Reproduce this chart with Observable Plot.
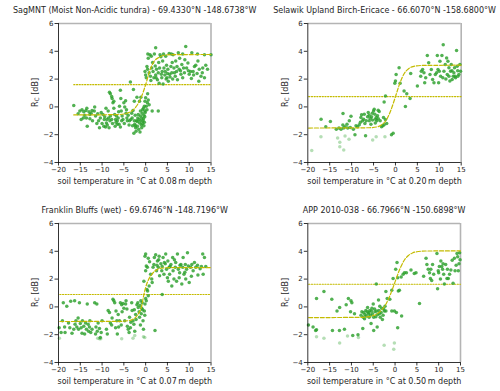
<!DOCTYPE html>
<html>
<head>
<meta charset="utf-8">
<script src="https://cdn.jsdelivr.net/npm/d3@7"></script>
<script src="https://cdn.jsdelivr.net/npm/@observablehq/plot@0.6"></script>
<style>
  html, body { margin:0; padding:0; background:#fff; }
  #wrap { position:relative; width:500px; height:391px; overflow:hidden; font-family:"DejaVu Sans", sans-serif; }
  #wrap svg { position:absolute; overflow:visible; }
</style>
</head>
<body>
<div id="wrap"></div>
<script>
// ---------- tick labels ----------
const xTicks = [-20, -15, -10, -5, 0, 5, 10, 15];
const yTicks = [-4, -2, 0, 2, 4, 6];

// ---------- titles ----------
const titles = [
  "SagMNT (Moist Non-Acidic tundra) - 69.4330°N -148.6738°W",
  "Selawik Upland Birch-Ericace - 66.6070°N -158.6800°W",
  "Franklin Bluffs (wet) - 69.6746°N -148.7196°W",
  "APP 2010-038 - 66.7966°N -150.6898°W"
];
const depths = ["0.08", "0.20", "0.07", "0.50"];

// ---------- panel 1 : SagMNT ----------
const p1Points = [
  [-16.5,0.1],[-15.1,-0.3],[-14.6,-0.2],[-14.2,-0.35],[-13.7,-0.25],[-13.5,-0.1],[-14.0,-0.6],[-13.6,-0.8],[-14.3,-0.8],[-13.4,-1.4],
  [-12.8,-0.55],[-12.5,-0.45],[-12.3,-0.25],[-12.8,-0.85],[-12.2,-1.0],[-11.7,0.0],[-11.8,-0.3],[-11.5,-0.65],[-11.2,-1.2],[-11.0,-0.5],
  [-10.6,-1.5],[-10.4,-0.8],[-10.2,-0.4],[-9.8,-0.55],[-9.5,-0.9],[-9.4,-0.7],[-9.2,-1.45],[-9.0,-1.15],[-8.8,-1.3],[-9.1,-0.1],
  [-8.6,-0.3],[-8.5,-0.8],[-8.2,-1.0],[-8.1,-0.65],[-7.8,-0.9],[-8.3,1.05],[-8.1,0.95],[-7.8,0.75],[-7.7,0.6],[-7.5,0.3],
  [-7.3,0.4],[-7.3,-0.1],[-7.1,-0.55],[-6.9,-0.9],[-6.7,-0.65],[-6.5,-1.25],[-6.5,-1.0],[-6.3,-0.8],[-6.2,-0.35],[-6.0,0.05],
  [-5.8,1.2],[-5.7,0.6],[-5.8,-1.45],[-5.5,-1.0],[-5.4,-0.65],[-5.2,-0.9],[-5.0,0.3],[-4.8,0.0],[-4.6,0.45],[-4.5,-0.45],
  [-4.3,-0.8],[-4.2,-1.0],[-4.0,-0.6],[-3.8,-1.3],[-3.7,-1.0],[-3.5,1.8],[-3.2,-0.45],[-3.1,-0.8],[-2.9,-0.25],[-2.8,1.25],
  [-2.6,0.4],[-2.6,-1.0],[-2.5,-1.25],[-2.3,-1.5],[-2.2,-1.75],[-2.1,-1.0],[-1.9,-1.4],[-2.7,-1.9],[-1.8,-0.8],[-1.7,-0.55],
  [-1.5,-0.9],[-1.4,-1.15],[-1.2,-0.65],[-1.2,-0.3],[-0.9,-0.8],[-0.8,-0.45],[-0.6,-1.0],[-0.5,-0.1],[-0.4,-0.6],[-0.3,0.05],
  [-0.15,0.4],[-0.15,-0.3],[0,0.65],[0.15,0.05],[0.3,-0.2],[0.4,0.3],[0.45,0.95],[0.6,0.5],[0.8,0.15],[-1.1,0.7],
  [-1.4,0.4],[-2.0,0.7],[1.5,-0.3],[2.9,-0.3],
  [-15.5,-0.5],[-14.8,-0.9],[-13.0,-0.35],[-10.8,-1.0],[-10.0,-1.2],[-9.6,-1.4],[-8.9,-0.9],[-8.4,-1.5],[-7.6,-1.2],[-7.0,-1.4],
  [-6.8,-1.1],[-6.1,-1.25],[-5.6,-0.3],[-4.9,-1.2],[-4.4,-0.2],[-3.4,-0.9],[-3.0,-1.35],[-2.4,-0.6],[-1.6,-1.6],[-1.3,-1.8],
  [-1.0,-1.3],[-0.9,-1.5],[-0.7,-1.2],[-0.5,-0.85],[-0.3,-1.1],[-0.2,-0.7],[-0.1,-0.4],[-1.1,-1.0],[-1.9,-1.05],[-2.35,-1.35],
  [-0.7,-0.2],[-0.4,-1.35],
  [-0.15,2.55],[0,2.3],[0.15,2.1],[0.3,2.9],[0.45,2.7],[0.6,3.5],[1.0,3.75],[1.3,3.65],[2.3,4.25],[0.8,2.45],
  [1.1,2.2],[1.4,2.8],[1.7,2.55],[1.9,2.1],[2.2,2.95],[2.3,2.3],[2.5,2.7],[2.7,1.95],[2.9,2.45],[3.1,1.7],
  [3.2,2.8],[3.5,3.6],[3.7,2.1],[3.8,2.55],[4.0,1.65],[4.2,2.8],[4.4,2.3],[4.6,3.65],[4.8,3.0],[4.9,2.1],
  [5.1,2.7],[5.2,1.85],[5.4,3.85],[5.5,2.35],[5.8,2.9],[6.0,2.45],[6.2,2.0],[6.3,3.75],[6.5,2.8],[6.8,2.2],
  [6.9,3.3],[7.1,2.55],[7.3,1.95],[7.5,3.9],[7.7,2.7],[7.8,3.5],[8.1,2.35],[8.3,3.05],[8.5,2.1],[8.7,2.8],
  [9.2,4.35],[8.9,2.45],[9.4,2.8],[9.7,3.15],[10.0,2.35],[10.3,2.55],[10.6,3.9],[10.9,2.55],[11.2,2.9],[11.5,3.0],
  [11.8,2.4],[12.2,1.85],[12.3,2.7],[12.7,2.2],[13.1,2.8],[13.5,2.1],[13.8,3.0],[14.2,2.7],[15.0,3.75],[13.5,3.75],
  [11.9,3.8],
  [3.0,3.2],[3.9,3.3],[4.5,2.55],[5.0,2.4],[5.6,2.15],[6.1,3.2],[6.6,2.45],[7.2,2.9],[8.0,2.6],[9.0,3.4],
  [9.8,2.6],[10.5,2.05],[11.0,2.3],[12.0,3.3],[13.0,2.45],[2.0,3.8],[3.3,3.75],[4.1,3.8],[5.9,3.8],[8.5,3.8],
  [0.5,3.8],[1.2,1.9],[1.6,3.2],[2.4,2.1],[3.6,2.35],[4.7,2.0]
];
const p1Light = [];
const p1CurveX = [-16.5, -6, -4, -3, -2, -1, 0, 1, 2, 3, 4, 6, 15];
const p1CurveY = [-0.58, -0.55, -0.42, -0.25, 0.1, 0.7, 1.6, 2.65, 3.3, 3.55, 3.7, 3.76, 3.77];
const p1Mid = 1.6;
const p1MidX = [-16.5, 15];

// ---------- panel 2 : Selawik ----------
const p2Points = [
  [-16.97,-0.88],[-14.85,-1.05],[-15.9,-1.43],[-11.97,-0.48],[-12.88,-1.52],[-12.42,-1.6],[-11.82,-1.52],[-11.5,-1.43],[-10.9,-1.52],[-11.06,-1.24],
  [-10.53,-1.0],[-10.15,-0.67],[-10.3,-1.48],[-9.24,-2.0],[-9.0,-1.36],[-8.64,-1.43],[-8.26,-1.29],[-7.88,-0.76],[-7.73,-0.57],[-7.5,-1.0],
  [-7.27,-0.88],[-7.12,-0.52],[-6.97,-1.19],[-6.82,-2.07],[-6.67,-1.0],[-6.36,-0.71],[-6.21,-0.4],[-5.98,-1.0],[-5.76,-0.81],[-5.6,-1.24],
  [-5.45,-0.71],[-5.23,-0.95],[-5.0,-0.29],[-4.85,-0.17],[-4.7,-0.52],[-4.55,-0.88],[-4.39,-0.76],[-4.24,-1.0],[-4.09,-0.64],[-3.94,-0.24],
  [-3.71,-0.33],[-3.48,-1.0],[-3.18,-1.43],[-2.88,-1.36],[-2.58,-1.29],[-2.73,-0.76],[-2.27,0.79],[-2.58,0.36],[-0.91,-2.0],[-0.53,-1.9],
  [0,1.86],[0.15,2.33],[-0.15,1.71],[0.83,2.81],[1.06,1.71],[1.97,1.14],[2.27,0.02],[2.58,0.95],[3.33,0.6],[3.48,2.4],
  [5.0,1.5],[5.76,2.21],[5.9,2.57],[6.2,2.69],[6.5,2.45],[6.67,1.74],[6.9,2.1],[7.27,3.69],[7.58,3.17],[7.88,2.33],
  [8.18,2.69],[8.48,1.98],[8.79,1.74],[9.09,2.33],[9.39,2.45],[9.55,3.69],[9.7,2.69],[9.85,1.74],[10.0,2.57],[10.15,3.29],
  [10.3,2.21],[10.6,3.69],[10.9,4.48],[11.06,2.57],[11.36,3.05],[11.67,3.52],[11.82,2.33],[11.97,3.29],[12.2,2.81],[12.42,1.86],
  [12.58,2.57],[12.73,3.05],[12.95,1.98],[13.18,2.21],[13.33,2.45],[13.48,2.81],[13.71,2.1],[13.94,4.05],[14.09,2.93],[14.24,2.21],
  [14.47,2.33],[14.7,3.05],[14.85,2.57],
  [-13.5,-1.6],[-12.0,-1.3],[-9.6,-1.6],[-8.0,-1.1],[-6.0,-0.6],[-5.3,-0.45],[-4.6,-1.15],[-3.9,-0.85],[-2.3,-0.9],[-2.0,-1.2],
  [11.5,2.0],[12.9,2.6],[14.2,2.6],[13.6,2.2],[10.8,2.1],[12.2,2.2]
];
const p2Light = [
  [-19.1,-3.14],[-17.0,-2.14],[-13.2,-2.24],[-12.7,-2.55],[-12.7,-2.86],[-11.8,-3.1],[-11.5,-2.1],[-10.6,-2.33],[-5.2,-2.38],[-4.4,-2.14],
  [-2.4,-2.14]
];
const p2CurveX = [-19.8, -6, -4, -3, -2, -1, 0, 1, 2, 3, 4, 6, 15];
const p2CurveY = [-1.52, -1.5, -1.42, -1.25, -0.9, -0.2, 0.74, 1.7, 2.4, 2.75, 2.9, 2.98, 3.0];
const p2Mid = 0.74;
const p2MidX = [-19.8, 15];

// ---------- panel 3 : Franklin Bluffs ----------
const p3Points = [
  [-19.85,-1.5],[-19.4,-1.85],[-19.1,-1.0],[-18.9,0.3],[-18.6,-1.45],[-18.5,-1.85],[-18.1,0.05],[-17.7,-1.15],[-17.4,-1.5],[-17.2,0.4],
  [-16.9,-1.9],[-16.5,-1.6],[-16.3,0.45],[-16.2,-1.25],[-16.0,-1.0],[-15.8,-1.45],[-15.5,-0.8],[-15.4,-1.6],[-15.2,0.3],[-15.0,-1.2],
  [-14.8,-1.5],[-14.6,-1.9],[-14.5,-1.0],[-14.2,-1.4],[-14.0,-1.95],[-13.8,-1.15],[-13.6,-1.6],[-13.4,0.2],[-13.2,-1.25],[-13.1,-1.75],
  [-12.9,-1.45],[-12.8,-1.0],[-12.6,-1.85],[-12.3,-1.6],[-11.7,0.3],[-11.5,-1.95],[-11.4,-1.45],[-11.2,0.2],[-11.1,-1.75],[-10.9,-1.15],
  [-10.6,-1.55],[-10.4,-2.2],[-10.2,-1.85],[-10.0,-1.0],[-8.8,-1.95],[-8.6,-0.25],[-8.3,-0.4],[-8.1,-1.15],[-7.8,-1.3],[-7.7,-0.8],
  [-7.5,0.55],[-7.3,0.45],[-7.1,0.3],[-6.9,-1.5],[-6.8,-0.3],[-6.6,-1.0],[-6.5,-1.95],[-6.3,-0.55],[-6.2,-1.45],[-6.0,-1.0],
  [-5.8,0.3],[-5.5,0.15],[-5.4,-0.35],[-5.2,0.25],[-5.0,-0.1],[-4.8,-1.0],[-4.6,0.2],[-4.5,0.45],[-4.3,-0.15],[-4.2,-1.4],
  [-4.0,-1.6],[-3.8,-1.85],[-3.7,-0.75],[-3.5,-1.5],[-3.2,0.3],[-3.1,-0.25],[-2.9,-1.0],[-2.7,-1.25],[-2.5,-1.75],[-2.3,-0.55],
  [-2.2,-0.9],[-2.0,0.15],[-1.8,0.3],[-1.7,-0.05],[-1.5,-0.35],[-1.4,-0.75],[-1.2,-1.3],[-1.1,0.45],[-0.9,-0.1],[-0.8,0.3],
  [-0.6,-1.0],[-0.5,-1.6],[-0.3,-0.3],[-0.15,0.2],[0,0.6],[0.15,0.45],[0.3,1.25],[0.45,1.15],[0.6,0.8],[0.8,1.5],
  [-0.4,1.85],[0,2.6],[-0.15,3.65],[0,3.8],[0.15,2.95],[0.4,2.85],[0.6,3.5],[0.9,3.25],[1.15,2.35],[1.4,2.0],
  [1.5,1.75],[1.7,2.85],[1.9,3.05],[2.0,3.55],[2.15,-1.7],[2.3,3.75],[2.5,2.6],[2.7,3.3],[2.9,2.85],[3.1,3.65],
  [3.2,2.25],[3.5,3.1],[3.7,2.6],[3.8,0.9],[4.0,3.55],[4.2,2.35],[4.5,3.1],[4.6,3.8],[4.8,2.7],[5.0,2.1],
  [5.1,3.3],[5.2,1.85],[5.4,2.85],[5.5,2.35],[5.8,3.05],[6.0,1.5],[6.2,3.55],[6.3,2.6],[6.5,2.0],[6.8,2.85],
  [6.9,3.2],[7.1,1.85],[7.3,3.8],[7.5,2.7],[7.7,2.1],[7.8,2.45],[8.1,3.05],[8.3,1.65],[8.5,2.85],[8.6,3.55],
  [8.8,2.35],[9.1,3.05],[9.2,2.0],[9.4,2.7],[9.6,3.9],[9.8,2.95],[10.0,1.75],[10.3,2.85],[10.6,3.05],[10.9,2.6],
  [11.5,2.85],[11.9,3.0],[12.5,2.75],[13.1,3.8],[13.2,2.35],[13.5,3.55],[13.8,2.9],
  [3.0,3.4],[4.3,3.2],[5.6,2.9],[6.6,3.4],[7.9,3.0],[9.0,2.5],[10.5,2.2],[12.0,2.3],[12.8,2.9],[11.2,3.2],
  [2.6,3.0],[3.8,2.9],[-1.0,-0.5],[-0.7,-0.2],[-0.2,-0.6],[-1.3,0.1],[-2.6,-0.2],[-3.4,-1.1],[-5.6,-1.3],[-9.0,-1.6]
];
const p3Light = [
  [-19.8,-2.25],[-11.0,-2.25],[-10.6,-2.3],[-10.3,-2.3],[-5.5,-2.3],[-2.9,-2.25],[-2.5,-2.05],[-0.5,-2.15],[-0.2,-2.2]
];
const p3CurveX = [-19.7, -6, -4, -3, -2.3, -1.5, -1, -0.4, 0, 0.5, 1, 1.5, 2.3, 3, 4, 6, 15];
const p3CurveY = [-1.05, -1.04, -0.99, -0.9, -0.75, -0.4, -0.05, 0.89, 1.4, 1.85, 2.15, 2.38, 2.62, 2.74, 2.8, 2.83, 2.83];
const p3Mid = 0.89;
const p3MidX = [-19.7, 15];

// ---------- panel 4 : APP 2010-038 ----------
const p4Points = [
  [-19.85,-1.3],[-18.8,-1.45],[-18.2,-1.7],[-18.0,-1.65],[-18.0,0.6],[-16.3,1.1],[-14.5,0.55],[-14.35,-1.7],[-13.3,-0.3],[-12.75,-1.7],
  [-12.7,-0.05],[-11.6,-1.6],[-11.2,0.15],[-10.7,0.6],[-10.2,-0.35],[-10.1,0.45],[-9.9,0.3],[-9.7,-2.05],[-9.3,-0.5],[-8.5,-2.0],
  [-7.8,-0.6],[-7.4,-1.55],[-7.6,-0.35],[-7.3,-0.75],[-7.2,-0.4],[-7.0,-0.85],[-6.9,-0.55],[-6.7,-0.25],[-6.6,-0.65],[-6.4,-0.35],
  [-6.3,-0.05],[-6.1,-0.5],[-5.95,-0.75],[-5.8,-0.25],[-5.65,-0.6],[-5.5,-1.2],[-5.3,-0.1],[-5.2,-0.5],[-5.0,0.2],[-4.9,-0.75],
  [-4.9,-1.7],[-4.7,-0.15],[-4.6,-0.35],[-4.4,-0.7],[-4.3,1.65],[-4.1,-1.45],[-4.0,-0.55],[-3.8,0.5],[-3.7,-0.25],[-3.5,0.05],
  [-3.4,-0.75],[-3.2,-0.4],[-3.05,-0.1],[-2.9,-0.9],[-2.75,-0.6],[-2.6,-0.15],[-2.45,-0.3],[-2.3,0.05],[-2.1,1.1],[-2.1,-0.3],
  [-1.8,0.6],[-1.2,0.55],[-0.75,-0.3],[-0.75,1.2],[-0.45,2.05],[-0.15,-0.3],[0.15,2.7],[0.3,-0.4],[0.45,3.2],[0.6,-1.5],
  [0.75,1.15],[1.0,1.2],[0.6,2.1],[1.5,-0.65],[1.4,2.15],[1.85,2.35],[2.15,2.45],[2.6,2.45],[3.65,2.65],[4.4,2.4],
  [4.8,2.45],[5.6,0.25],[6.55,2.2],[7.1,3.5],[7.3,3.05],[7.6,2.7],[7.9,2.45],[8.1,2.05],[8.2,2.7],[8.4,1.9],
  [8.6,3.05],[8.85,2.35],[9.6,3.85],[9.75,1.3],[9.9,2.6],[10.15,2.9],[10.4,2.0],[10.5,3.3],[10.7,2.9],[10.9,2.7],
  [11.15,2.35],[11.3,1.65],[11.6,3.05],[11.9,2.05],[12.2,2.05],[12.5,2.35],[12.8,2.65],[13.1,3.35],[13.3,1.7],[13.6,3.5],
  [13.75,2.6],[14.0,3.0],[14.2,3.85],[14.35,3.6],[14.5,2.6],[14.65,3.1],[14.8,3.9],
  [-6.0,-0.4],[-5.4,-0.3],[-4.2,-0.3],[-3.6,-0.5],[10.0,2.45],[11.0,3.1],[12.0,2.7],[14.9,3.4]
];
const p4Light = [
  [-18.0,-2.15],[-16.3,-2.25],[-12.7,-2.6],[-10.9,-2.1],[-8.4,-2.2],[-2.5,-2.75],[-0.15,-2.6],[-0.3,-3.05]
];
const p4CurveX = [-19.8, -8, -6, -5, -4, -3, -2, -1, 0, 1, 2, 3, 4, 5, 7, 15];
const p4CurveY = [-0.77, -0.75, -0.7, -0.62, -0.48, -0.2, 0.25, 0.95, 1.8, 2.65, 3.3, 3.68, 3.88, 3.97, 4.02, 4.03];
const p4Mid = 1.63;
const p4MidX = [-19.8, 15];

// ---------- build ----------
const toObj = a => a.map(([x, y]) => ({x, y}));
const curveObj = (xs, ys) => xs.map((x, i) => ({x, y: ys[i]}));

const panels = [
  {pts: p1Points, light: p1Light, cx: p1CurveX, cy: p1CurveY, mid: p1Mid, midX: p1MidX, left: 0, top: 0, h: 195, mt: 23, mb: 33, ml: 58, mr: 39.5},
  {pts: p2Points, light: p2Light, cx: p2CurveX, cy: p2CurveY, mid: p2Mid, midX: p2MidX, left: 250, top: 0, h: 195, mt: 23, mb: 33, ml: 57.3, mr: 39.3},
  {pts: p3Points, light: p3Light, cx: p3CurveX, cy: p3CurveY, mid: p3Mid, midX: p3MidX, left: 0, top: 195, h: 196, mt: 28, mb: 29, ml: 58, mr: 39.5},
  {pts: p4Points, light: p4Light, cx: p4CurveX, cy: p4CurveY, mid: p4Mid, midX: p4MidX, left: 250, top: 195, h: 196, mt: 28, mb: 29, ml: 57.3, mr: 40}
];

const wrap = document.getElementById("wrap");
const fitColor = "#c4bb00";
const green = "#2ca02c";
const textColor = "#262626";

panels.forEach((p, i) => {
  const svg = Plot.plot({
    width: 250,
    height: p.h,
    marginTop: p.mt, marginBottom: p.mb, marginLeft: p.ml, marginRight: p.mr,
    style: {fontFamily: "DejaVu Sans", fontSize: "7px", color: textColor, background: "transparent", overflow: "visible"},
    x: {domain: [-20, 15]},
    y: {domain: [-4, 6]},
    marks: [
      Plot.ruleY([6], {stroke: "#b4b4b4", strokeWidth: 1.6}),
      Plot.ruleX([15], {stroke: "#b4b4b4", strokeWidth: 1.6}),
      Plot.line(p.midX.map(x => ({x, y: p.mid})), {x: "x", y: "y", stroke: fitColor, strokeWidth: 1.1, strokeDasharray: "1.2,1.5"}),
      Plot.dot(toObj(p.light), {x: "x", y: "y", r: 1.75, fill: green, fillOpacity: 0.35, stroke: "none"}),
      Plot.dot(toObj(p.pts), {x: "x", y: "y", r: 1.75, fill: green, fillOpacity: 0.82, stroke: "none"}),
      Plot.line(curveObj(p.cx, p.cy), {x: "x", y: "y", stroke: fitColor, strokeWidth: 1.2, strokeDasharray: "4,1.8", curve: "monotone-x"}),
      Plot.ruleX([-20], {stroke: "#000", strokeWidth: 0.8}),
      Plot.ruleY([-4], {stroke: "#000", strokeWidth: 0.8}),
      Plot.axisX({ticks: xTicks, tickSize: 3.5, tickPadding: 1.5, label: null, stroke: "#000", strokeWidth: 0.8, fill: textColor}),
      Plot.axisY({ticks: yTicks, tickSize: 3.5, tickPadding: 1.5, label: null, stroke: "#000", strokeWidth: 0.8, fill: textColor}),
      Plot.text([titles[i]], {frameAnchor: "top", dy: -13.5, lineAnchor: "middle", fontSize: 8, fill: textColor}),
      Plot.text(["soil temperature in °C at " + depths[i] + "\u2009m depth"], {frameAnchor: "bottom", dy: 18.5, lineAnchor: "middle", fontSize: 8, fill: textColor})
    ]
  });
  svg.style.left = p.left + "px";
  svg.style.top = p.top + "px";
  // y label with subscript
  const cy = p.mt + (p.h - p.mt - p.mb) / 2;
  const t = d3.select(svg).append("text")
    .attr("transform", `translate(35,${cy}) rotate(-90)`)
    .attr("text-anchor", "middle")
    .attr("dominant-baseline", "middle")
    .attr("font-family", "DejaVu Sans")
    .attr("font-size", 8)
    .attr("fill", textColor);
  t.append("tspan").text("R");
  t.append("tspan").attr("font-size", 6).attr("dy", 1.8).text("C");
  t.append("tspan").attr("dy", -1.8).text(" [dB]");
  wrap.appendChild(svg);
});
</script>
</body>
</html>
